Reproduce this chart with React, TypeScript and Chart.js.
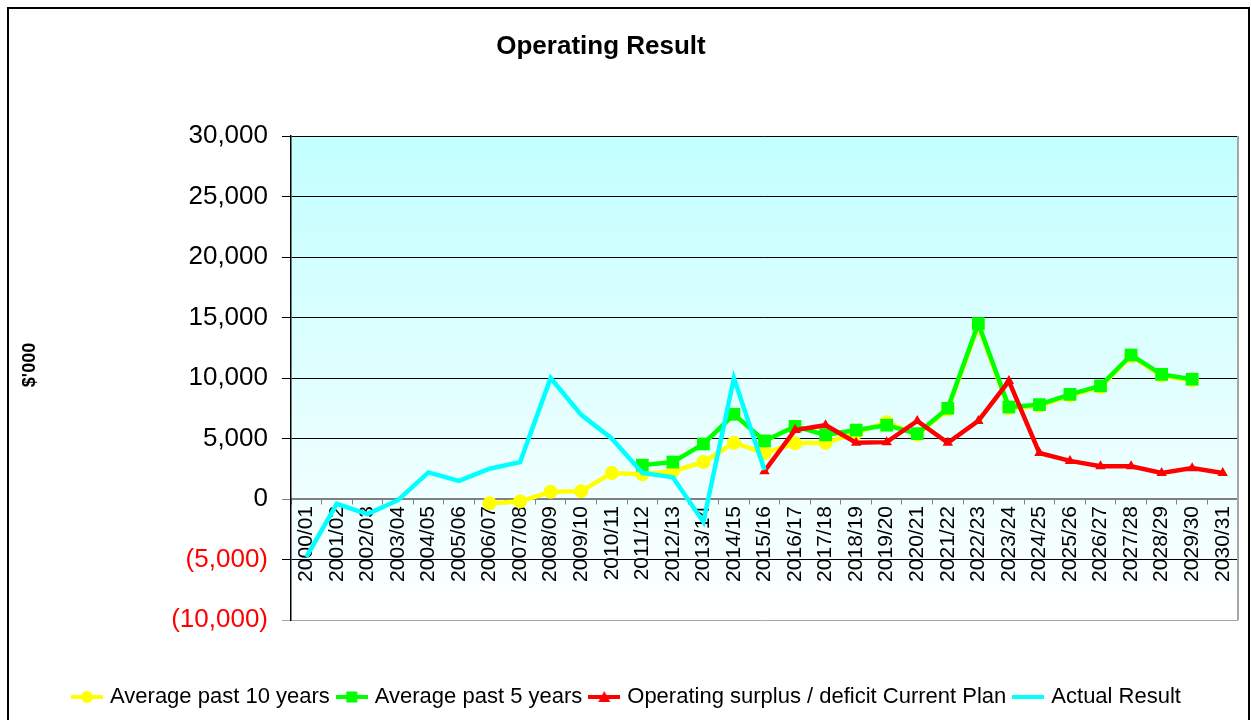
import React, { useEffect, useRef } from 'react';
import { Chart, registerables } from 'chart.js';

Chart.register(...registerables);

const chartTitle = 'Operating Result';
const yAxisTitle = "$'000";

const categories = [
  '2000/01', '2001/02', '2002/03', '2003/04', '2004/05', '2005/06', '2006/07', '2007/08',
  '2008/09', '2009/10', '2010/11', '2011/12', '2012/13', '2013/14', '2014/15', '2015/16',
  '2016/17', '2017/18', '2018/19', '2019/20', '2020/21', '2021/22', '2022/23', '2023/24',
  '2024/25', '2025/26', '2026/27', '2027/28', '2028/29', '2029/30', '2030/31',
];

const seriesNames = [
  'Average past 10 years',
  'Average past 5 years',
  'Operating surplus / deficit Current Plan',
  'Actual Result',
];

const avg10Values = [
  null, null, null, null, null, null, -350, -200, 600, 650, 2150, 2050, 2300, 3050, 4650, 3800,
  4600, 4650, 5450, 6350, 5300, 7400, 14300, 7500, 7700, 8550, 9250, 11800, 10200, 9800, null,
];

const avg5Values = [
  null, null, null, null, null, null, null, null, null, null, null, 2800, 3050, 4550, 7000, 4800,
  6000, 5300, 5700, 6100, 5400, 7500, 14500, 7600, 7800, 8650, 9350, 11900, 10300, 9900, null,
];

const planValues = [
  null, null, null, null, null, null, null, null, null, null, null, null, null, null, null, 2300,
  5700, 6100, 4650, 4700, 6450, 4650, 6450, 9750, 3800, 3150, 2700, 2700, 2150, 2550, 2150,
];

const actualValues = [
  -4800, -400, -1250, -100, 2200, 1500, 2500, 3050, 10000, 6950, 5000, 2150, 1800, -1900, 10000, 2400,
  null, null, null, null, null, null, null, null, null, null, null, null, null, null, null,
];

const yMin = -10000;
const yMax = 30000;
const yStep = 5000;

const FONT = "'Liberation Sans', Arial, Helvetica, sans-serif";

const YELLOW = '#FFFF00';
const GREEN = '#00FF00';
const RED = '#FF0000';
const CYAN = '#00FFFF';

function fmt(v: number): string {
  const s = Math.abs(v).toString().replace(/\B(?=(\d{3})+(?!\d))/g, ',');
  return v < 0 ? `(${s})` : s;
}

function makeIcon(color: string, style: string | null): HTMLCanvasElement {
  const c = document.createElement('canvas');
  c.width = 32;
  c.height = 18;
  const g = c.getContext('2d') as CanvasRenderingContext2D;
  g.strokeStyle = color;
  g.lineWidth = 4;
  g.beginPath();
  g.moveTo(0, 9);
  g.lineTo(32, 9);
  g.stroke();
  g.fillStyle = color;
  if (style === 'circle') {
    g.beginPath();
    g.arc(16, 9, 6, 0, Math.PI * 2);
    g.fill();
  } else if (style === 'rect') {
    g.fillRect(10.5, 3.5, 11, 11);
  } else if (style === 'triangle') {
    g.beginPath();
    g.moveTo(16, 3);
    g.lineTo(22, 14);
    g.lineTo(10, 14);
    g.closePath();
    g.fill();
  }
  return c;
}

const decorPlugin = {
  id: 'decor',
  beforeDraw(chart: any) {
    const { ctx, chartArea: a } = chart;
    ctx.save();
    ctx.fillStyle = '#FFFFFF';
    ctx.fillRect(0, 0, chart.width, chart.height);
    const grad = ctx.createLinearGradient(0, a.top, 0, a.bottom);
    grad.addColorStop(0, '#C2FFFF');
    grad.addColorStop(1, '#FFFFFF');
    ctx.fillStyle = grad;
    ctx.fillRect(a.left, a.top, a.right - a.left, a.bottom - a.top);
    ctx.strokeStyle = '#000';
    ctx.lineWidth = 2;
    ctx.strokeRect(8, 8, 1241, 760);
    ctx.fillStyle = '#000';
    ctx.font = `bold 26px ${FONT}`;
    ctx.textAlign = 'center';
    ctx.textBaseline = 'alphabetic';
    ctx.fillText(chartTitle, 601, 54);
    ctx.translate(30, 365);
    ctx.rotate(-Math.PI / 2);
    ctx.font = `bold 18px ${FONT}`;
    ctx.textBaseline = 'middle';
    ctx.fillText(yAxisTitle, 0, 0);
    ctx.restore();
  },
  beforeDatasetsDraw(chart: any) {
    const { ctx, chartArea: a } = chart;
    ctx.save();
    ctx.strokeStyle = '#A6A6A6';
    ctx.lineWidth = 2;
    ctx.beginPath();
    ctx.moveTo(a.right, a.top);
    ctx.lineTo(a.right, a.bottom);
    ctx.stroke();
    ctx.restore();
  },
};

export default function App() {
  const ref = useRef<HTMLCanvasElement | null>(null);

  useEffect(() => {
    if (!ref.current) return;
    const icons = [
      makeIcon(YELLOW, 'circle'),
      makeIcon(GREEN, 'rect'),
      makeIcon(RED, 'triangle'),
      makeIcon(CYAN, null),
    ];
    const chart = new Chart(ref.current, {
      type: 'line',
      data: {
        labels: categories,
        datasets: [
          {
            label: seriesNames[0],
            data: avg10Values,
            borderColor: YELLOW,
            backgroundColor: YELLOW,
            borderWidth: 4.5,
            pointStyle: 'circle',
            pointRadius: 7,
            pointBorderWidth: 0,
            order: 4,
          },
          {
            label: seriesNames[1],
            data: avg5Values,
            borderColor: GREEN,
            backgroundColor: GREEN,
            borderWidth: 4.5,
            pointStyle: 'rect',
            pointRadius: 9,
            pointBorderWidth: 0,
            order: 3,
          },
          {
            label: seriesNames[2],
            data: planValues,
            borderColor: RED,
            backgroundColor: RED,
            borderWidth: 4.5,
            pointStyle: 'triangle',
            pointRadius: 6,
            pointBorderWidth: 0,
            order: 2,
          },
          {
            label: seriesNames[3],
            data: actualValues,
            borderColor: CYAN,
            backgroundColor: CYAN,
            borderWidth: 4.5,
            pointRadius: 0,
            order: 1,
          },
        ],
      } as any,
      options: {
        animation: false,
        responsive: false,
        events: [],
        layout: { padding: { left: 18, right: 13, top: 136, bottom: 2 } },
        plugins: {
          title: { display: false },
          tooltip: { enabled: false },
          legend: {
            position: 'bottom',
            title: { display: true, text: '', font: { size: 10 }, padding: { top: 44, bottom: 0 } },
            labels: {
              usePointStyle: true,
              pointStyleWidth: 24,
              padding: 10,
              color: '#000',
              font: { family: FONT, size: 22 },
              generateLabels: (ch: any) =>
                ch.data.datasets.map((ds: any, i: number) => ({
                  text: ds.label,
                  datasetIndex: i,
                  pointStyle: icons[i],
                  fillStyle: ds.borderColor,
                  strokeStyle: ds.borderColor,
                  lineWidth: 0,
                  hidden: false,
                  fontColor: '#000',
                })),
            },
          },
        },
        scales: {
          x: {
            type: 'category',
            position: { y: 0 } as any,
            offset: true,
            grid: {
              display: true,
              drawOnChartArea: false,
              drawTicks: true,
              tickLength: 5,
              color: '#808080',
              offset: true,
            },
            border: { display: true, color: '#808080', width: 1.5 },
            ticks: {
              autoSkip: false,
              minRotation: 90,
              maxRotation: 90,
              padding: 2,
              color: '#000',
              font: { family: FONT, size: 21 },
            },
          },
          y: {
            min: yMin,
            max: yMax,
            afterFit: (s: any) => {
              s.width = 273;
            },
            ticks: {
              stepSize: yStep,
              padding: 14,
              color: (c: any) => (c.tick && c.tick.value < 0 ? '#FF0000' : '#000'),
              font: { family: FONT, size: 26 },
              callback: (v: any) => fmt(Number(v)),
            },
            grid: {
              color: (c: any) =>
                c.tick && c.tick.value === 0 ? '#808080' : c.tick && c.tick.value === yMin ? '#A6A6A6' : '#000',
              tickLength: 9,
              lineWidth: 1,
            },
            border: { display: true, color: '#000', width: 1.5 },
            title: { display: false },
          },
        },
      } as any,
      plugins: [decorPlugin],
    });
    return () => chart.destroy();
  }, []);

  return (
    <div style={{ position: 'fixed', left: 0, top: 0, width: 1251, height: 720, background: '#fff' }}>
      <canvas ref={ref} width={1251} height={720} style={{ display: 'block' }} />
    </div>
  );
}
